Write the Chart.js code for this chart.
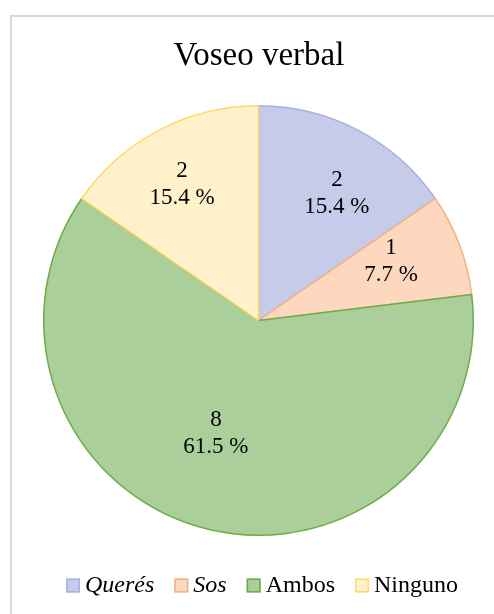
<!DOCTYPE html>
<html>
<head>
<meta charset="utf-8">
<script src="https://cdn.jsdelivr.net/npm/chart.js@4"></script>
<style>
  html, body { margin: 0; padding: 0; background: #fff; overflow: hidden; }
  #frame {
    position: absolute; left: 10px; top: 15px;
    width: 600px; height: 700px;
    border: 2px solid #d9d9d9;
  }
  #wrap { position: absolute; left: 0; top: 0; width: 494px; height: 614px; }
</style>
</head>
<body>
<div id="frame"></div>
<div id="wrap"><canvas id="voseo-chart" width="494" height="614"></canvas></div>
<script>
const chartTitle = "Voseo verbal";
const categories = ["Querés", "Sos", "Ambos", "Ninguno"];
const counts = [2, 1, 8, 2];
const italicLabels = [true, true, false, false];

const fillColors = ["#c6cbe9", "#fdd8bf", "#abcf9b", "#fff1cc"];
const edgeColors = ["#aab0e0", "#f4b183", "#6fac46", "#ffd966"];

const serif = "'Liberation Serif', 'Times New Roman', serif";

// per-slice nudges for the value labels (angle shift in degrees, radius fraction)
const labelShift = [3.9, -3.2, 6.8, -1.7];
const labelRadius = [0.697, 0.675, 0.562, 0.725];

const total = counts.reduce((a, b) => a + b, 0);

const pieText = {
  id: "pieText",
  afterDraw(chart) {
    const ctx = chart.ctx;
    ctx.save();
    ctx.fillStyle = "#000";
    ctx.textAlign = "center";

    // title
    ctx.font = `33px ${serif}`;
    ctx.textBaseline = "alphabetic";
    ctx.fillText(chartTitle, 259, 65);

    // values + percentages inside the slices
    ctx.font = `23px ${serif}`;
    ctx.textBaseline = "middle";
    chart.getDatasetMeta(0).data.forEach((arc, i) => {
      const mid = (arc.startAngle + arc.endAngle) / 2 + (labelShift[i] * Math.PI) / 180;
      const r = arc.outerRadius * labelRadius[i];
      const x = arc.x + Math.cos(mid) * r;
      const y = arc.y + Math.sin(mid) * r;
      const pct = ((counts[i] / total) * 100).toFixed(1) + " %";
      ctx.fillText(String(counts[i]), x, y - 13.5);
      ctx.fillText(pct, x, y + 13.5);
    });

    // legend row
    const box = 14, gap = 5, spacing = 20, y = 585.5;
    ctx.textAlign = "left";
    ctx.textBaseline = "alphabetic";
    const fonts = categories.map((c, i) => `${italicLabels[i] ? "italic " : ""}24px ${serif}`);
    const widths = categories.map((c, i) => {
      ctx.font = fonts[i];
      return ctx.measureText(c).width;
    });
    const full = widths.reduce((s, w) => s + box + gap + w, 0) + spacing * (categories.length - 1);
    let x = 262 - full / 2;
    categories.forEach((c, i) => {
      ctx.fillStyle = fillColors[i];
      ctx.fillRect(x, y - box / 2, box, box);
      ctx.strokeStyle = edgeColors[i];
      ctx.lineWidth = 1.5;
      ctx.strokeRect(x + 0.75, y - box / 2 + 0.75, box - 1.5, box - 1.5);
      ctx.fillStyle = "#000";
      ctx.font = fonts[i];
      ctx.fillText(c, x + box + gap, 592);
      x += box + gap + widths[i] + spacing;
    });
    ctx.restore();
  },
};

new Chart(document.getElementById("voseo-chart"), {
  type: "pie",
  data: {
    labels: categories,
    datasets: [
      {
        data: counts,
        backgroundColor: fillColors,
        borderColor: edgeColors,
        borderWidth: 1.5,
      },
    ],
  },
  options: {
    responsive: false,
    animation: false,
    layout: { padding: { left: 43, right: 20, top: 105, bottom: 78 } },
    plugins: {
      legend: { display: false },
      title: { display: false },
      tooltip: { enabled: false },
    },
  },
  plugins: [pieText],
});
</script>
</body>
</html>
